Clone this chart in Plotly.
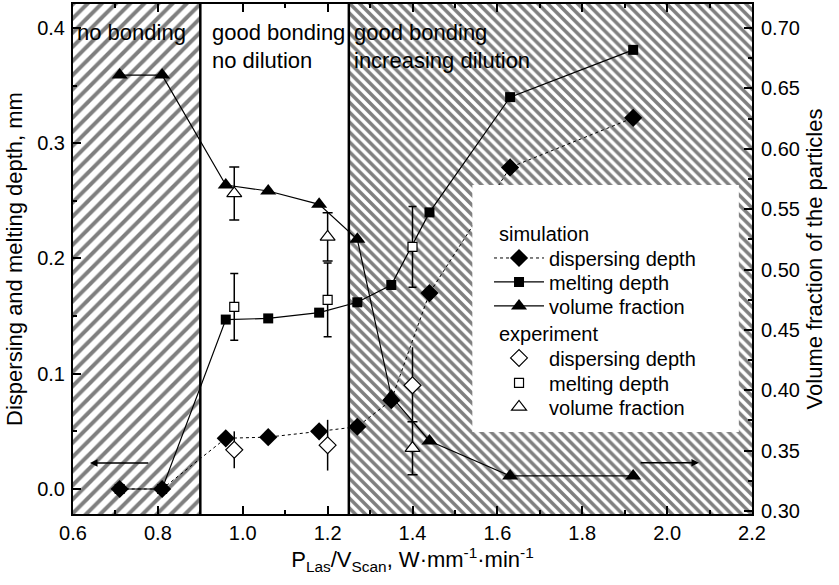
import plotly.graph_objects as go

# ---------------- data ----------------
x_sim = [0.71, 0.81, 0.96, 1.06, 1.18, 1.27, 1.35, 1.44, 1.63, 1.92]
disp_sim = [0.0, 0.0, 0.044, 0.045, 0.050, 0.054, 0.077, 0.170, 0.279, 0.322]
melt_sim = [0.0, 0.0, 0.147, 0.148, 0.153, 0.162, 0.177, 0.240, 0.340, 0.381]
vol_sim = [0.661, 0.661, 0.570, 0.565, 0.554, 0.525, 0.395, 0.358, 0.329, 0.329]

x_exp = [0.98, 1.20, 1.40]
disp_exp = [0.034, 0.038, 0.090]
disp_err = [0.016, 0.022, 0.033]
melt_exp = [0.158, 0.164, 0.210]
melt_err = [0.029, 0.032, 0.035]
vol_exp = [0.563, 0.527, 0.352]
vol_err = [0.022, 0.020, 0.022]

# region boundaries (x): no bonding | good bonding, no dilution | increasing dilution
x_range = [0.6, 2.2]
region_bounds = [0.9, 1.25]
y_range = [-0.0217, 0.4208]
y2_range = [0.2975, 0.7199]

FONT = "Liberation Sans, Arial, sans-serif"
FS = 20      # tick labels / legend
FS_T = 22    # axis titles and region labels

fig = go.Figure()

def region(x0, x1, shape, size, solidity):
    fig.add_trace(go.Scatter(
        x=[x0, x1, x1, x0, x0],
        y=[y_range[0], y_range[0], y_range[1], y_range[1], y_range[0]],
        mode="lines", line=dict(width=0), fill="toself", fillcolor="white",
        fillpattern=dict(shape=shape, fgcolor="black", bgcolor="white",
                         size=size, solidity=solidity),
        showlegend=False, hoverinfo="skip"))

region(x_range[0], region_bounds[0], "/", 10, 0.4)
region(region_bounds[1], x_range[1], "\\", 7, 0.5)

# simulation
fig.add_trace(go.Scatter(
    x=x_sim, y=disp_sim, mode="lines+markers", name="dispersing depth",
    line=dict(color="black", width=1, dash="dot"),
    marker=dict(symbol="diamond", size=14, color="black"),
    legend="legend"))
fig.add_trace(go.Scatter(
    x=x_sim, y=melt_sim, mode="lines+markers", name="melting depth",
    line=dict(color="black", width=1.2),
    marker=dict(symbol="square", size=10, color="black"),
    legend="legend2"))

# experiment (volume fraction drawn before simulation triangles so it sits below)
fig.add_trace(go.Scatter(
    x=x_exp, y=disp_exp, mode="markers", name="dispersing depth",
    marker=dict(symbol="diamond", size=13, color="white",
                line=dict(color="black", width=1.2)),
    error_y=dict(type="data", array=disp_err, color="black", thickness=1.5, width=0),
    legend="legend4"))
fig.add_trace(go.Scatter(
    x=x_exp, y=melt_exp, mode="markers", name="melting depth",
    marker=dict(symbol="square", size=9, color="white",
                line=dict(color="black", width=1.2)),
    error_y=dict(type="data", array=melt_err, color="black", thickness=1.5, width=4),
    legend="legend5"))
fig.add_trace(go.Scatter(
    x=x_exp, y=vol_exp, mode="markers", name="volume fraction",
    marker=dict(symbol="triangle-up", size=13, color="white",
                line=dict(color="black", width=1.2)),
    error_y=dict(type="data", array=vol_err, color="black", thickness=1.5, width=5),
    legend="legend6", yaxis="y2"))
fig.add_trace(go.Scatter(
    x=x_sim, y=vol_sim, mode="lines+markers", name="volume fraction",
    line=dict(color="black", width=1.2),
    marker=dict(symbol="triangle-up", size=14, color="black"),
    legend="legend3", yaxis="y2"))

shapes = [
    dict(type="line", xref="x", yref="paper", x0=b, x1=b, y0=0, y1=1,
         line=dict(color="black", width=2.5), layer="above")
    for b in region_bounds
]
# white box behind the legend
shapes.append(dict(type="rect", xref="x", yref="y", x0=1.541, x1=2.169,
                   y0=0.0495, y1=0.2638, fillcolor="white",
                   line=dict(width=0), layer="above"))

annos = []
def txt(x, y, s, ref="y", size=FS_T):
    annos.append(dict(x=x, y=y, xref="x", yref=ref, text=s, showarrow=False,
                      xanchor="left", yanchor="middle",
                      font=dict(family=FONT, size=size, color="black")))

txt(0.605, 0.3965, "no bonding")
txt(0.922, 0.3965, "good bonding")
txt(0.922, 0.3722, "no dilution")
txt(1.258, 0.3965, "good bonding")
txt(1.258, 0.3722, "increasing dilution")
# legend group titles
txt(1.60, 0.2212, "simulation", size=FS)
txt(1.60, 0.1344, "experiment", size=FS)

# arrows indicating the axis of each series
annos.append(dict(x=0.64, y=0.0226, ax=0.781, ay=0.0226, xref="x", yref="y",
                  axref="x", ayref="y", text="", showarrow=True,
                  arrowhead=2, arrowsize=1, arrowwidth=1.5, arrowcolor="black"))
annos.append(dict(x=2.075, y=0.340, ax=1.934, ay=0.340, xref="x", yref="y2",
                  axref="x", ayref="y2", text="", showarrow=True,
                  arrowhead=2, arrowsize=1, arrowwidth=1.5, arrowcolor="black"))

axis_common = dict(showline=True, linecolor="black", linewidth=2, showgrid=False,
                   zeroline=False, ticks="inside", ticklen=8, tickwidth=1.5,
                   tickcolor="black", automargin=False,
                   tickfont=dict(family=FONT, size=FS, color="black"))

def leg(px, py):
    return dict(x=px, y=py, xanchor="left", yanchor="middle",
                bgcolor="rgba(0,0,0,0)", borderwidth=0, itemwidth=50,
                font=dict(family=FONT, size=FS, color="black"))

LX_SIM = 0.6127
LX_EXP = 0.6127
fig.update_layout(
    width=839, height=585,
    margin=dict(l=73, r=87, t=4, b=71),
    plot_bgcolor="white", paper_bgcolor="white",
    font=dict(family=FONT, size=FS, color="black"),
    shapes=shapes, annotations=annos,
    xaxis=dict(range=x_range, dtick=0.2, tickformat=".1f", mirror="ticks",
               minor=dict(ticks="inside", ticklen=4, dtick=0.1, tickcolor="black"),
               title=dict(text="P<sub>Las</sub>/V<sub>Scan</sub>, W·mm<sup>-1</sup>·min<sup>-1</sup>",
                          font=dict(family=FONT, size=FS_T), standoff=6),
               ticklabelstandoff=0,
               **axis_common),
    yaxis=dict(range=y_range, dtick=0.1, tickformat=".1f",
               minor=dict(ticks="inside", ticklen=4, dtick=0.05, tickcolor="black"),
               title=dict(text="Dispersing and melting depth, mm",
                          font=dict(family=FONT, size=FS_T), standoff=8),
               ticklabelstandoff=2,
               **axis_common),
    yaxis2=dict(range=y2_range, dtick=0.05, tickformat=".2f", overlaying="y",
                side="right",
                minor=dict(ticks="inside", ticklen=4, dtick=0.025, tickcolor="black"),
                title=dict(text="Volume fraction of the particles",
                           font=dict(family=FONT, size=FS_T), standoff=8),
                ticklabelstandoff=3,
                **axis_common),
    legend=leg(LX_SIM, 0.502), legend2=leg(LX_SIM, 0.455), legend3=leg(LX_SIM, 0.408),
    legend4=leg(LX_EXP, 0.306), legend5=leg(LX_EXP, 0.257), legend6=leg(LX_EXP, 0.210),
)

fig.write_html("out.html", config={"displayModeBar": False},
               post_script="document.body.style.margin='0';document.body.style.overflow='hidden';")
